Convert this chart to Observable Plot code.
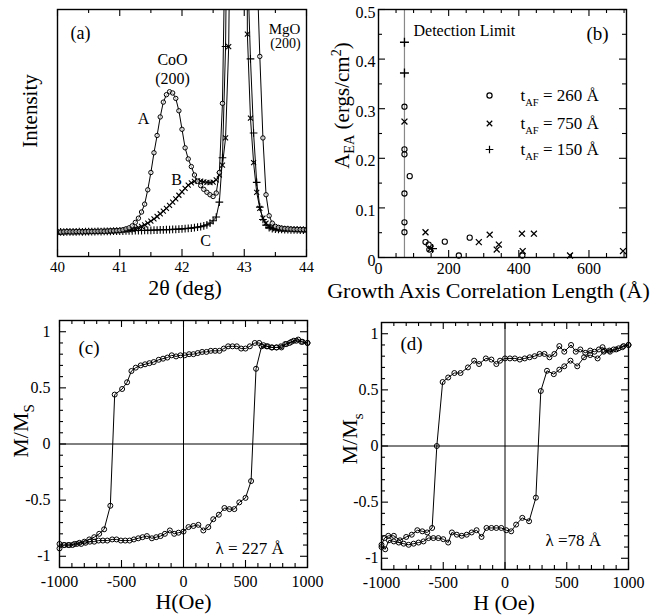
<!DOCTYPE html>
<html><head><meta charset="utf-8">
<script src="https://cdn.jsdelivr.net/npm/d3@7"></script>
<script src="https://cdn.jsdelivr.net/npm/@observablehq/plot@0.6"></script>
<style>
body{margin:0;background:#fff;}
#fig{position:relative;width:667px;height:616px;background:#fff;overflow:hidden;}
#fig > div{position:absolute;}
</style></head><body><div id="fig"></div>
<script>
// ---------- (a) X-ray diffraction scans ----------
const xrdTwoTheta = [40,40.05,40.1,40.15,40.2,40.25,40.3,40.35,40.4,40.45,
40.5,40.55,40.6,40.65,40.7,40.75,40.8,40.85,40.9,40.95,
41,41.05,41.1,41.15,41.2,41.25,41.3,41.35,41.4,41.45,
41.5,41.55,41.6,41.65,41.7,41.75,41.8,41.85,41.9,41.95,
42,42.05,42.1,42.15,42.2,42.25,42.3,42.35,42.4,42.45,
42.5,42.55,42.6,42.65,42.7,42.75,42.8,42.85,42.9,42.95,
43,43.05,43.1,43.15,43.2,43.25,43.3,43.35,43.4,43.45,
43.5,43.55,43.6,43.65,43.7,43.75,43.8,43.85,43.9,43.95,44];
const xrdA = [.100,.099,.100,.101,.100,.100,.101,.101,.100,.101,
.102,.101,.102,.102,.103,.102,.103,.104,.104,.105,
.106,.108,.112,.116,.124,.138,.155,.180,.212,.270,
.340,.420,.490,.565,.625,.655,.667,.662,.640,.590,
.515,.440,.395,.364,.330,.305,.287,.272,.260,.250,
.243,.257,.340,.620,1.40,3.0,5.5,7.0,7.5,7.0,
5.5,3.5,2.2,1.60,1.20,.810,.480,.250,.165,.135,
.122,.118,.115,.113,.112,.111,.110,.110,.109,.109,.108];
const xrdB = [.098,.099,.099,.100,.100,.099,.100,.100,.101,.100,
.101,.101,.102,.101,.102,.102,.103,.103,.104,.104,
.105,.106,.107,.108,.110,.113,.117,.122,.128,.135,
.143,.152,.162,.173,.184,.195,.207,.220,.233,.248,
.262,.276,.289,.298,.304,.306,.305,.302,.300,.299,
.301,.310,.330,.370,.480,.850,2.0,4.5,6.5,7.0,
5.0,.900,.560,.380,.260,.195,.155,.135,.122,.116,
.113,.112,.111,.110,.110,.109,.109,.108,.108,.108,.107];
const xrdC = [.099,.100,.099,.100,.100,.100,.100,.101,.100,.101,
.101,.101,.101,.102,.101,.102,.102,.102,.103,.103,
.103,.103,.104,.104,.104,.105,.105,.105,.106,.106,
.106,.107,.107,.108,.108,.109,.109,.110,.110,.111,
.112,.113,.114,.115,.117,.119,.121,.124,.128,.135,
.145,.160,.220,.400,.850,2.0,4.5,6.5,7.5,7.0,
5.0,1.20,.800,.500,.300,.200,.150,.127,.117,.113,
.111,.110,.110,.109,.109,.108,.108,.108,.107,.107,.107];
const xrdTicks = [40,41,42,43,44];
const xrdMinor = [40.5,41.5,42.5,43.5];

// ---------- (b) A_EA vs growth-axis correlation length ----------
const detectionLimit = [74];
const corrLen260 = [74,74,74,74,74,74,89,134,143,145,189,229,260,410];
const aea260 = [0.304,0.218,0.208,0.129,0.071,0.051,0.164,0.031,0.026,0.016,0.032,0.004,0.040,0.004];
const corrLen750 = [74,134,149,286,317,337,343,409,411,443,546,697];
const aea750 = [0.274,0.051,0.018,0.031,0.046,0.016,0.026,0.048,0.013,0.048,0.004,0.013];
const corrLen150 = [74,74,154];
const aea150 = [0.434,0.372,0.018];
const corrTicks = [0,200,400,600];
const corrMinor = [50,100,150,250,300,350,450,500,550,650,700];
const aeaTicks = [0,0.1,0.2,0.3,0.4,0.5];
const aeaMinor = [0.05,0.15,0.25,0.35,0.45];
const legendLabels = ["t_AF = 260 Å","t_AF = 750 Å","t_AF = 150 Å"];

// ---------- (c) hysteresis loop, lambda = 227 A ----------
const cUpH = [1000,960,925,890,855,820,785,750,715,680,645,610,575,535,500,465,430,395,360,325,290,255,220,185,150,115,80,45,10,-25,-60,-95,-130,-165,-200,-240,-275,-310,-345,-385,-420,-455,-495,-555,-590,-640,-680,-720,-760,-800,-840,-880,-920,-960,-1000];
const cUpM = [0.90,0.91,0.93,0.92,0.90,0.89,0.87,0.86,0.86,0.87,0.88,0.90,0.90,0.87,0.85,0.85,0.87,0.87,0.87,0.85,0.83,0.83,0.83,0.82,0.82,0.81,0.80,0.80,0.79,0.79,0.78,0.79,0.77,0.76,0.75,0.73,0.72,0.71,0.70,0.68,0.65,0.55,0.49,0.44,-0.55,-0.76,-0.80,-0.83,-0.85,-0.87,-0.88,-0.89,-0.90,-0.90,-0.93];
const cLowH = [-1000,-965,-930,-895,-860,-825,-790,-755,-720,-685,-650,-615,-575,-540,-505,-470,-435,-400,-365,-330,-295,-255,-220,-185,-150,-110,-75,-40,0,40,80,120,160,200,240,285,330,370,410,450,500,545,585,630,670,710,750,790,830,870,910,950,1000];
const cLowM = [-0.89,-0.90,-0.90,-0.90,-0.89,-0.89,-0.88,-0.87,-0.87,-0.86,-0.86,-0.86,-0.85,-0.85,-0.86,-0.86,-0.86,-0.85,-0.84,-0.83,-0.82,-0.84,-0.83,-0.82,-0.80,-0.77,-0.80,-0.79,-0.78,-0.74,-0.73,-0.72,-0.77,-0.74,-0.67,-0.63,-0.57,-0.58,-0.58,-0.52,-0.48,-0.33,0.67,0.87,0.87,0.86,0.86,0.86,0.89,0.91,0.92,0.91,0.90];

// ---------- (d) hysteresis loop, lambda = 78 A ----------
const dUpH = [1000,960,920,880,845,805,790,760,725,690,650,610,573,535,480,440,400,360,320,280,240,200,160,120,80,40,0,-40,-70,-110,-155,-210,-250,-300,-360,-410,-460,-505,-552,-590,-630,-670,-710,-755,-800,-850,-900,-945,-975,-1000];
const dUpM = [0.90,0.89,0.87,0.86,0.85,0.85,0.88,0.86,0.84,0.85,0.83,0.86,0.84,0.90,0.84,0.89,0.82,0.79,0.82,0.82,0.80,0.79,0.78,0.77,0.78,0.78,0.78,0.76,0.73,0.77,0.78,0.73,0.76,0.70,0.65,0.65,0.61,0.57,0.00,-0.73,-0.77,-0.76,-0.75,-0.79,-0.81,-0.84,-0.80,-0.80,-0.82,-0.88];
const dLowH = [-1000,-970,-940,-900,-860,-820,-780,-740,-700,-660,-620,-580,-540,-500,-460,-430,-390,-350,-310,-270,-230,-190,-150,-110,-70,-30,10,50,90,140,195,250,290,340,395,440,480,530,585,640,690,750,800,850,900,950,1000];
const dLowM = [-0.90,-0.92,-0.84,-0.85,-0.86,-0.87,-0.88,-0.87,-0.86,-0.85,-0.82,-0.82,-0.82,-0.83,-0.86,-0.77,-0.79,-0.80,-0.79,-0.77,-0.75,-0.81,-0.73,-0.73,-0.73,-0.73,-0.75,-0.76,-0.70,-0.64,-0.67,-0.46,0.49,0.67,0.64,0.68,0.71,0.76,0.71,0.79,0.81,0.78,0.84,0.84,0.86,0.88,0.90];
const hTicks = [-1000,-500,0,500,1000];
const hMinor = [-900,-800,-700,-600,-400,-300,-200,-100,100,200,300,400,600,700,800,900];
const mTicks = [-1,-0.5,0,0.5,1];
const mMinor = [-0.9,-0.8,-0.7,-0.6,-0.4,-0.3,-0.2,-0.1,0.1,0.2,0.3,0.4,0.6,0.7,0.8,0.9];

// ---------- helpers ----------
const FONT = "'Liberation Serif','Times New Roman',serif";
const zip = (xs, ys) => xs.map((x, i) => ({x, y: ys[i]}));
const fig = document.getElementById("fig");

function tickMarks(xMajor, xMinor, yMajor, yMinor, iw, ih) {
  const s = {stroke: "black", strokeWidth: 1.1};
  const maj = 7, mn = 4, out = [];
  if (xMajor) out.push(Plot.ruleX(xMajor, {x: d => d, insetTop: ih - maj, ...s}), Plot.ruleX(xMajor, {x: d => d, insetBottom: ih - maj, ...s}));
  if (xMinor) out.push(Plot.ruleX(xMinor, {x: d => d, insetTop: ih - mn, ...s}), Plot.ruleX(xMinor, {x: d => d, insetBottom: ih - mn, ...s}));
  if (yMajor) out.push(Plot.ruleY(yMajor, {y: d => d, insetRight: iw - maj, ...s}), Plot.ruleY(yMajor, {y: d => d, insetLeft: iw - maj, ...s}));
  if (yMinor) out.push(Plot.ruleY(yMinor, {y: d => d, insetRight: iw - mn, ...s}), Plot.ruleY(yMinor, {y: d => d, insetLeft: iw - mn, ...s}));
  return out;
}

function panel(p) {
  const [mt, mr, mb, ml] = p.margin;
  const iw = p.width - ml - mr, ih = p.height - mt - mb;
  const T = {fontFamily: FONT, fill: "black", lineAnchor: "middle"};
  const marks = [
    ...p.marks,
    ...tickMarks(p.xMajor, p.xMinor, p.yMajor, p.yMinor, iw, ih),
    Plot.frame({stroke: "black", strokeWidth: 1.4})
  ];
  if (p.xLabels) marks.push(Plot.text(p.xLabels, {x: d => d, text: d => String(d), frameAnchor: "bottom", textAnchor: "middle", dy: p.xTickDy, fontSize: p.tickSize, ...T}));
  if (p.yLabels) marks.push(Plot.text(p.yLabels, {y: d => d, text: d => String(d), frameAnchor: "left", textAnchor: "end", dx: p.yTickDx, dy: p.yTickDyOff || 0, fontSize: p.tickSize, ...T}));
  marks.push(Plot.text([p.xTitle], {frameAnchor: "bottom", textAnchor: "middle", dy: p.xTitleDy, dx: p.xTitleDx || 0, fontSize: p.titleSize, ...T}));
  marks.push(Plot.text([p.yTitle], {frameAnchor: "left", textAnchor: "middle", dx: p.yTitleDx, dy: p.yTitleDy, rotate: -90, fontSize: p.yTitleSize || p.titleSize, ...T}));
  const svg = Plot.plot({
    width: p.width, height: p.height,
    marginTop: mt, marginRight: mr, marginBottom: mb, marginLeft: ml,
    x: {domain: p.xDomain, axis: null},
    y: {domain: p.yDomain, axis: null},
    style: {background: "transparent", overflow: "visible", fontFamily: FONT, color: "black"},
    marks
  });
  const rich = {
    "A_EA (ergs/cm^2)": 'A<tspan dy="5" font-size="68%">EA</tspan><tspan dy="-5"> (ergs/cm</tspan><tspan dy="-8" font-size="68%">2</tspan><tspan dy="8">)</tspan>',
    "M/M_S": 'M/M<tspan dy="6" font-size="68%">S</tspan>',
    "M/M_s": 'M/M<tspan dy="6" font-size="68%">s</tspan>',
    "t_AF = 260 Å": 't<tspan dy="5" font-size="62%">AF</tspan><tspan dy="-5"> = 260 Å</tspan>',
    "t_AF = 750 Å": 't<tspan dy="5" font-size="62%">AF</tspan><tspan dy="-5"> = 750 Å</tspan>',
    "t_AF = 150 Å": 't<tspan dy="5" font-size="62%">AF</tspan><tspan dy="-5"> = 150 Å</tspan>'
  };
  svg.querySelectorAll("text").forEach(t => { if (rich[t.textContent] !== undefined) t.innerHTML = rich[t.textContent]; });
  const div = document.createElement("div");
  div.style.left = p.left + "px"; div.style.top = p.top + "px";
  div.style.width = p.width + "px"; div.style.height = p.height + "px";
  div.appendChild(svg);
  fig.appendChild(div);
}

const ann = (txt, dx, dy, size, anchor = "middle") =>
  Plot.text([txt], {frameAnchor: "top-left", dx, dy, fontSize: size, fontFamily: FONT, fill: "black", textAnchor: anchor, lineAnchor: "middle"});

// ---------- panel (a) ----------
const dA = zip(xrdTwoTheta, xrdA), dB = zip(xrdTwoTheta, xrdB), dC = zip(xrdTwoTheta, xrdC);
panel({
  left: 0, top: 0, width: 333, height: 300, margin: [9, 27, 44, 57],
  xDomain: [40, 44], yDomain: [0, 1],
  xMajor: xrdTicks, xMinor: xrdMinor, xLabels: xrdTicks, xTickDy: 11, tickSize: 15,
  xTitle: "2θ (deg)", xTitleDy: 31, xTitleDx: 3, titleSize: 22,
  yTitle: "Intensity", yTitleDx: -27, yTitleDy: -22, yTitleSize: 21,
  marks: [
    Plot.line(dC, {x: "x", y: "y", stroke: "black", strokeWidth: 1, clip: true}),
    Plot.line(dB, {x: "x", y: "y", stroke: "black", strokeWidth: 1, clip: true}),
    Plot.line(dA, {x: "x", y: "y", stroke: "black", strokeWidth: 1, clip: true}),
    Plot.dot(dC, {x: "x", y: "y", symbol: "plus", r: 2.6, stroke: "black", strokeWidth: 1.1, clip: true}),
    Plot.dot(dB, {x: "x", y: "y", symbol: "times", r: 2.4, stroke: "black", strokeWidth: 1.1, clip: true}),
    Plot.dot(dA, {x: "x", y: "y", symbol: "circle", r: 2.2, stroke: "black", fill: "white", fillOpacity: 0.6, strokeWidth: 1, clip: true}),
    ann("(a)", 13, 24, 18, "start"),
    ann("CoO", 115, 50, 16), ann("(200)", 115, 69, 16),
    ann("MgO", 227, 20, 15), ann("(200)", 228, 34, 14),
    ann("A", 86, 109, 16), ann("B", 119, 170, 16), ann("C", 148, 231, 16)
  ]
});

// ---------- panel (b) ----------
const d260 = zip(corrLen260, aea260), d750 = zip(corrLen750, aea750), d150 = zip(corrLen150, aea150);
const legendSymbols = ["circle", "times", "plus"];
const legendRows = [86, 114, 140];
panel({
  left: 333, top: 0, width: 334, height: 300, margin: [9, 41, 43, 45],
  xDomain: [0, 707], yDomain: [0, 0.5],
  xMajor: corrTicks, xMinor: corrMinor, yMajor: aeaTicks, yMinor: aeaMinor,
  xLabels: corrTicks, yLabels: aeaTicks, xTickDy: 11, yTickDx: -3, yTickDyOff: 3, tickSize: 16,
  xTitle: "Growth Axis Correlation Length (Å)", xTitleDy: 33, xTitleDx: -14, titleSize: 22,
  yTitle: "A_EA (ergs/cm^2)", yTitleDx: -36, yTitleDy: -28, yTitleSize: 21,
  marks: [
    Plot.ruleX(detectionLimit, {x: d => d, stroke: "#888", strokeWidth: 1.2}),
    Plot.dot(d260, {x: "x", y: "y", symbol: "circle", r: 2.6, stroke: "black", strokeWidth: 1.1}),
    Plot.dot(d750, {x: "x", y: "y", symbol: "times", r: 2.8, stroke: "black", strokeWidth: 1.3}),
    Plot.dot(d150, {x: "x", y: "y", symbol: "plus", r: 3, stroke: "black", strokeWidth: 1.3}),
    ann("Detection Limit", 35, 21, 16, "start"),
    ann("(b)", 219, 24, 19),
    ...legendLabels.flatMap((lab, i) => [
      Plot.dot([lab], {frameAnchor: "top-left", dx: 111, dy: legendRows[i], symbol: legendSymbols[i], r: 2.6, stroke: "black", strokeWidth: 1.2}),
      Plot.text([lab], {frameAnchor: "top-left", dx: 142, dy: legendRows[i], textAnchor: "start", lineAnchor: "middle", fontSize: 17, fontFamily: FONT, fill: "black"})
    ])
  ]
});

// ---------- panel (c) ----------
panel({
  left: 0, top: 300, width: 333, height: 316, margin: [20, 26, 49, 59],
  xDomain: [-1000, 1000], yDomain: [-1.1, 1.1],
  xMajor: hTicks, xMinor: hMinor, yMajor: mTicks, yMinor: mMinor,
  xLabels: hTicks, yLabels: mTicks, xTickDy: 14, yTickDx: -9, tickSize: 16,
  xTitle: "H(Oe)", xTitleDy: 34, titleSize: 22,
  yTitle: "M/M_S", yTitleDx: -39, yTitleDy: -13, yTitleSize: 22,
  marks: [
    Plot.ruleX([0], {stroke: "black", strokeWidth: 1}),
    Plot.ruleY([0], {stroke: "black", strokeWidth: 1}),
    Plot.line(zip(cUpH, cUpM), {x: "x", y: "y", stroke: "black", strokeWidth: 1}),
    Plot.line(zip(cLowH, cLowM), {x: "x", y: "y", stroke: "black", strokeWidth: 1}),
    Plot.dot(zip(cUpH, cUpM), {x: "x", y: "y", r: 2.5, stroke: "black", strokeWidth: 1}),
    Plot.dot(zip(cLowH, cLowM), {x: "x", y: "y", r: 2.5, stroke: "black", strokeWidth: 1}),
    ann("(c)", 19, 27, 19, "start"),
    ann("λ = 227 Å", 156, 228, 17, "start")
  ]
});

// ---------- panel (d) ----------
panel({
  left: 333, top: 300, width: 334, height: 316, margin: [22, 39, 47, 48],
  xDomain: [-1000, 1000], yDomain: [-1.1, 1.1],
  xMajor: hTicks, xMinor: hMinor, yMajor: mTicks, yMinor: mMinor,
  xLabels: hTicks, yLabels: mTicks, xTickDy: 13, yTickDx: -3, tickSize: 16,
  xTitle: "H (Oe)", xTitleDy: 33, xTitleDx: -1, titleSize: 22,
  yTitle: "M/M_s", yTitleDx: -32, yTitleDy: -7, yTitleSize: 22,
  marks: [
    Plot.ruleX([0], {stroke: "black", strokeWidth: 1}),
    Plot.ruleY([0], {stroke: "black", strokeWidth: 1}),
    Plot.line(zip(dUpH, dUpM), {x: "x", y: "y", stroke: "black", strokeWidth: 1}),
    Plot.line(zip(dLowH, dLowM), {x: "x", y: "y", stroke: "black", strokeWidth: 1}),
    Plot.dot(zip(dUpH, dUpM), {x: "x", y: "y", r: 2.5, stroke: "black", strokeWidth: 1}),
    Plot.dot(zip(dLowH, dLowM), {x: "x", y: "y", r: 2.5, stroke: "black", strokeWidth: 1}),
    ann("(d)", 19, 21, 19, "start"),
    ann("λ =78 Å", 164, 218, 17, "start")
  ]
});
</script></body></html>
